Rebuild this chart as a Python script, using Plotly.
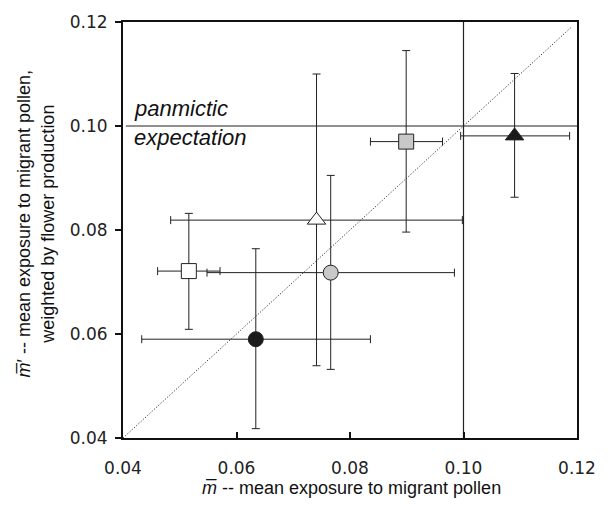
import plotly.graph_objects as go

# ---- data ----
labels = ["black circle", "grey circle", "white square", "white triangle", "grey square", "black triangle"]
m_bar = [0.0634, 0.0766, 0.0516, 0.0741, 0.0899, 0.1090]
m_bar_low = [0.0433, 0.0548, 0.0461, 0.0484, 0.0836, 0.0995]
m_bar_high = [0.0836, 0.0984, 0.0571, 0.0998, 0.0963, 0.1187]
m_prime = [0.0590, 0.0718, 0.0721, 0.0819, 0.0970, 0.0981]
m_prime_low = [0.0418, 0.0532, 0.0609, 0.0539, 0.0796, 0.0863]
m_prime_high = [0.0764, 0.0905, 0.0832, 0.1100, 0.1145, 0.1101]
symbols = ["circle", "circle", "square", "triangle-up", "square", "triangle-up"]
fills = ["#1a1a1a", "#c8c8c8", "#ffffff", "#ffffff", "#c8c8c8", "#1a1a1a"]

panmictic = 0.10
axis_range = [0.04, 0.12]
tick_vals = [0.04, 0.06, 0.08, 0.10, 0.12]
tick_text = ["0.04", "0.06", "0.08", "0.10", "0.12"]

fig = go.Figure()

# reference lines
fig.add_trace(go.Scatter(x=[0.0405, 0.12], y=[panmictic, panmictic], mode="lines",
                         line=dict(color="#222", width=1.2), hoverinfo="skip", showlegend=False))
fig.add_trace(go.Scatter(x=[panmictic, panmictic], y=axis_range, mode="lines",
                         line=dict(color="#222", width=1.2), hoverinfo="skip", showlegend=False))
fig.add_trace(go.Scatter(x=[0.04, 0.119], y=[0.04, 0.119], mode="lines",
                         line=dict(color="#333", width=1, dash="1.2px,1.8px"), hoverinfo="skip", showlegend=False))

for i in range(len(labels)):
    fig.add_trace(go.Scatter(
        x=[m_bar[i]], y=[m_prime[i]], mode="markers", name=labels[i],
        marker=dict(symbol=symbols[i], size=15 if "triangle" not in symbols[i] else 16,
                    color=fills[i], line=dict(color="#222", width=1)),
        error_x=dict(type="data", symmetric=False,
                     array=[m_bar_high[i] - m_bar[i]], arrayminus=[m_bar[i] - m_bar_low[i]],
                     color="#222", thickness=1, width=4),
        error_y=dict(type="data", symmetric=False,
                     array=[m_prime_high[i] - m_prime[i]], arrayminus=[m_prime[i] - m_prime_low[i]],
                     color="#222", thickness=1, width=4),
        showlegend=False))

tickfont = dict(family="DejaVu Sans", size=17, color="#222")
fig.update_xaxes(range=axis_range, tickvals=tick_vals, ticktext=tick_text, showgrid=False,
                 zeroline=False, showline=True, linecolor="#111", linewidth=2, mirror=True,
                 ticks="inside", ticklen=6, tickcolor="#111", tickwidth=2, tickfont=tickfont,
                 ticklabelstandoff=14)
fig.update_yaxes(range=axis_range, tickvals=tick_vals, ticktext=tick_text, showgrid=False,
                 zeroline=False, showline=True, linecolor="#111", linewidth=2, mirror=True,
                 ticks="outside", ticklen=6, tickcolor="#111", tickwidth=2, tickfont=tickfont,
                 ticklabelstandoff=4)

fig.add_annotation(x=0.5032, y=-0.12, xref="paper", yref="paper", showarrow=False,
                   text="<i>m\u0305</i> -- mean exposure to migrant pollen",
                   font=dict(family="Liberation Sans", size=18, color="#111"),
                   xanchor="center", yanchor="middle")
fig.add_annotation(x=-0.193, y=0.5167, xref="paper", yref="paper", showarrow=False,
                   text="<i>m\u0305</i>\u2032 -- mean exposure to migrant pollen,<br>weighted by flower production",
                   textangle=-90, font=dict(family="Liberation Sans", size=18, color="#111"),
                   xanchor="center", yanchor="middle")
fig.add_annotation(x=0.0415, y=panmictic, xref="x", yref="y", showarrow=False,
                   text="<i>panmictic</i>", font=dict(family="Liberation Sans", size=22, color="#111"),
                   xanchor="left", yanchor="bottom", yshift=3)
fig.add_annotation(x=0.0415, y=panmictic, xref="x", yref="y", showarrow=False,
                   text="<i>expectation</i>", font=dict(family="Liberation Sans", size=22, color="#111"),
                   xanchor="left", yanchor="top", yshift=3)

fig.update_layout(width=608, height=510, margin=dict(l=123, r=22, t=20, b=72),
                  plot_bgcolor="white", paper_bgcolor="white")

fig.write_html("out.html")
